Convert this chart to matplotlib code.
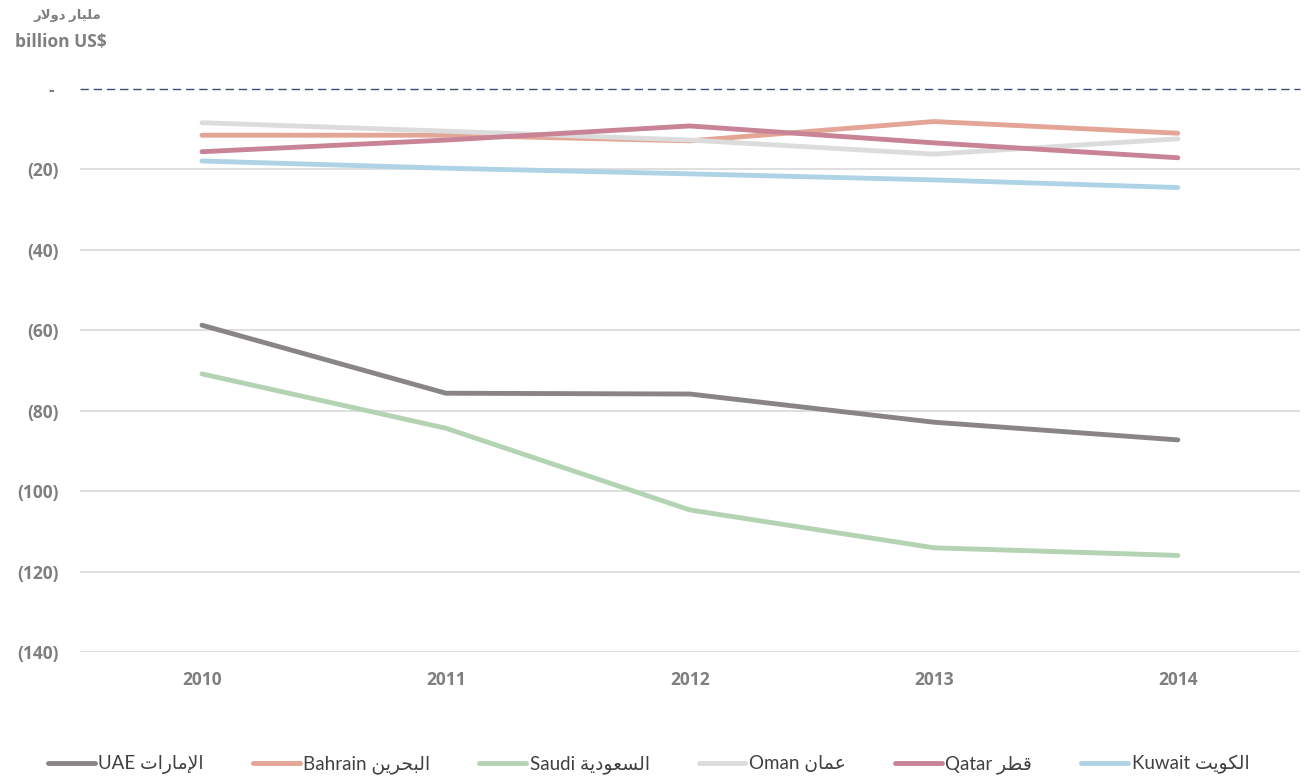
import matplotlib
matplotlib.use("Agg")
import matplotlib.pyplot as plt

# data (billion US$)
years = [2010, 2011, 2012, 2013, 2014]
uae = [-58.8, -75.7, -75.9, -82.9, -87.3]
bahrain = [-11.6, -11.6, -13.0, -8.2, -11.1]
saudi = [-70.9, -84.4, -104.7, -114.1, -116.0]
oman = [-8.5, -10.6, -12.8, -16.3, -12.5]
qatar = [-15.7, -12.8, -9.3, -13.5, -17.2]
kuwait = [-18.0, -19.8, -21.2, -22.7, -24.6]

yticks = [0, -20, -40, -60, -80, -100, -120, -140]
ytick_labels = ["- ", "(20)", "(40)", "(60)", "(80)", "(100)", "(120)", "(140)"]

names_en = ["UAE", "Bahrain", "Saudi", "Oman", "Qatar", "Kuwait"]
names_ar = ["الإمارات", "البحرين", "السعودية", "عمان", "قطر", "الكويت"]
colors = ["#8a8585", "#e3a596", "#b3d3b3", "#dcdcdc", "#c88496", "#aed3e6"]

# --- minimal arabic shaping (matplotlib has no bidi/shaping) ---
# char: (isolated, final, initial, medial) ; None for non-joining-forward letters
FORMS = {
    "ا": (0xFE8D, 0xFE8E, None, None),
    "إ": (0xFE87, 0xFE88, None, None),
    "ب": (0xFE8F, 0xFE90, 0xFE91, 0xFE92),
    "ت": (0xFE95, 0xFE96, 0xFE97, 0xFE98),
    "ة": (0xFE93, 0xFE94, None, None),
    "ح": (0xFEA1, 0xFEA2, 0xFEA3, 0xFEA4),
    "د": (0xFEA9, 0xFEAA, None, None),
    "ر": (0xFEAD, 0xFEAE, None, None),
    "س": (0xFEB1, 0xFEB2, 0xFEB3, 0xFEB4),
    "ط": (0xFEC1, 0xFEC2, 0xFEC3, 0xFEC4),
    "ع": (0xFEC9, 0xFECA, 0xFECB, 0xFECC),
    "ق": (0xFED5, 0xFED6, 0xFED7, 0xFED8),
    "ك": (0xFED9, 0xFEDA, 0xFEDB, 0xFEDC),
    "ل": (0xFEDD, 0xFEDE, 0xFEDF, 0xFEE0),
    "م": (0xFEE1, 0xFEE2, 0xFEE3, 0xFEE4),
    "ن": (0xFEE5, 0xFEE6, 0xFEE7, 0xFEE8),
    "و": (0xFEED, 0xFEEE, None, None),
    "ي": (0xFEF1, 0xFEF2, 0xFEF3, 0xFEF4),
}
LAM_ALEF = {"ا": (0xFEFB, 0xFEFC), "إ": (0xFEF9, 0xFEFA)}


def shape_word(word):
    out = []
    i = 0
    prev_joins = False
    while i < len(word):
        c = word[i]
        if c == "ل" and i + 1 < len(word) and word[i + 1] in LAM_ALEF:
            iso, fin = LAM_ALEF[word[i + 1]]
            out.append(chr(fin if prev_joins else iso))
            prev_joins = False
            i += 2
            continue
        iso, fin, ini, med = FORMS[c]
        nxt = i + 1 < len(word)
        joins_next = ini is not None and nxt
        if prev_joins and joins_next:
            f = med
        elif prev_joins:
            f = fin
        elif joins_next:
            f = ini
        else:
            f = iso
        out.append(chr(f))
        prev_joins = ini is not None
        i += 1
    return "".join(out)


def ar(text):
    words = [shape_word(w) for w in text.split(" ")]
    return " ".join(w[::-1] for w in words[::-1])


plt.rcParams["font.family"] = ["Lato", "DejaVu Sans"]
bold_fam = ["Open Sans", "DejaVu Sans"]
grey = "#7f7f7f"

fig = plt.figure(figsize=(13.05, 7.82), dpi=100)
ax = fig.add_axes([0.0613, 0.1662, 0.9347, 0.7206])

series = [uae, bahrain, saudi, oman, qatar, kuwait]
x = list(range(len(years)))
for vals, en, a, col in zip(series, names_en, names_ar, colors):
    ax.plot(x, vals, color=col, lw=3.5, solid_capstyle="round",
            label=en + " " + ar(a), zorder=3)

ax.set_xlim(-0.5, len(years) - 0.5)
ax.set_ylim(-140, 0)

# grid lines (all but the zero line, which is dashed)
ax.hlines(yticks[1:], -0.5, len(years) - 0.5, color="#d9d9d9", lw=1.2, zorder=1)
ax.axhline(0, color="#3e5070", lw=1.0, ls=(0, (6, 3.5)), clip_on=False, zorder=2)

ax.set_yticks(yticks)
ax.set_yticklabels(ytick_labels)
ax.set_xticks(x)
ax.set_xticklabels([str(y) for y in years])
ax.tick_params(axis="both", length=0, colors=grey)
ax.tick_params(axis="y", pad=15)
ax.tick_params(axis="x", pad=14)
for lab in ax.get_xticklabels() + ax.get_yticklabels():
    lab.set_fontweight("bold")
    lab.set_family(bold_fam)
    lab.set_fontsize(12.5)

for s in ax.spines.values():
    s.set_visible(False)

fig.text(101 / 1305, 1 - 15 / 782, ar("مليار دولار"), ha="right", va="center",
         fontsize=9.5, fontweight="bold", color=grey, family=bold_fam)
fig.text(107 / 1305, 1 - 42 / 782, "billion US$", ha="right", va="center",
         fontsize=12.5, fontweight="bold", color=grey, family=bold_fam)

fig.legend(loc="center", bbox_to_anchor=(0.497, 0.022), ncol=6, frameon=False,
           fontsize=13.5, handlelength=2.5, handletextpad=0.2, columnspacing=2.6,
           labelcolor="#404040")

fig.savefig("out.png", dpi=100)
